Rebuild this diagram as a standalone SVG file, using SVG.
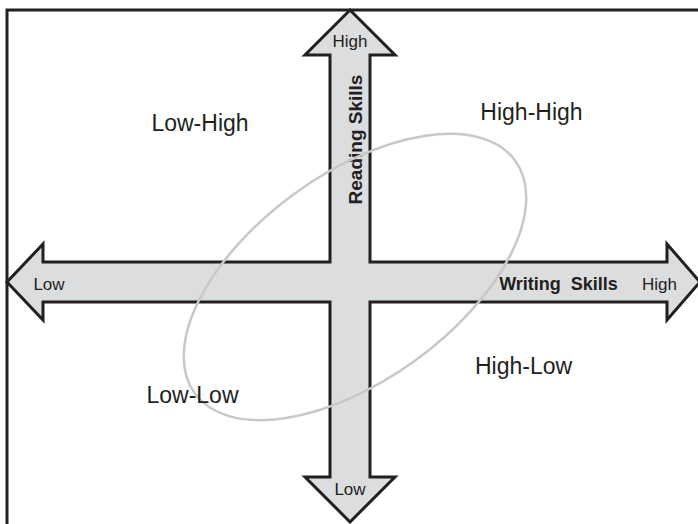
<svg xmlns="http://www.w3.org/2000/svg" width="698" height="524" viewBox="0 0 698 524">
<style>
.frame{fill:none;stroke:#231f20;stroke-width:3}
.arrow{fill:#dcdddf;stroke:#231f20;stroke-width:3;stroke-linejoin:miter}
.ell{fill:none;stroke:#c8c8c8;stroke-width:2.5}
.q{font-family:"Liberation Sans",Arial,sans-serif;font-size:23px;fill:#231f20}
.s{font-family:"Liberation Sans",Arial,sans-serif;font-size:17px;fill:#231f20}
.b{font-family:"Liberation Sans",Arial,sans-serif;font-weight:bold;fill:#231f20}
</style>
<rect width="698" height="524" fill="#ffffff"/>
<g id="frame">
<path class="frame" d="M7 524 V10 H698"/>
</g>
<g id="connectors">
<path id="axes" class="arrow" d="M350 10 L395 55 L370 55 L370 262 L667 262 L667 244 L700 282 L667 320 L667 302 L370 302 L370 477 L395 477 L350 522 L305 477 L330 477 L330 302 L43 302 L43 320 L7 282 L43 244 L43 262 L330 262 L330 55 L305 55 Z"/>
</g>
<g id="axis-labels">
<text class="s" x="350" y="47" text-anchor="middle">High</text>
<text class="s" x="350" y="495" text-anchor="middle">Low</text>
<text class="s" x="49" y="290" text-anchor="middle">Low</text>
<text class="s" x="659.5" y="290" text-anchor="middle">High</text>
<text class="b" x="558.5" y="290" font-size="18" text-anchor="middle" xml:space="preserve">Writing  Skills</text>
<text class="b" font-size="19" transform="translate(362 139.5) rotate(-90)" text-anchor="middle">Reading Skills</text>
</g>
<g id="ellipse">
<ellipse class="ell" cx="355" cy="277" rx="198" ry="103" transform="rotate(-36 355 277)"/>
</g>
<g id="quadrants">
<text id="low-high" class="q" x="200" y="131" text-anchor="middle">Low-High</text>
<text id="high-high" class="q" x="531.5" y="120" text-anchor="middle">High-High</text>
<text id="low-low" class="q" x="192.5" y="403" text-anchor="middle">Low-Low</text>
<text id="high-low" class="q" x="523.5" y="374" text-anchor="middle">High-Low</text>
</g>
</svg>
